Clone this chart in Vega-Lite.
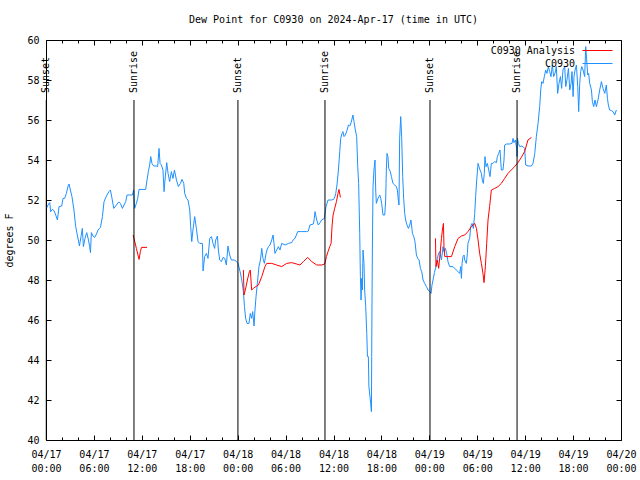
{
  "$schema": "https://vega.github.io/schema/vega-lite/v6.json",
  "autosize": {"type": "none"},
  "padding": {"left": 46, "top": 40, "right": 19, "bottom": 40},
  "width": 575,
  "height": 400,
  "background": "white",
  "title": {"text": "Dew Point for C0930 on 2024-Apr-17 (time in UTC)", "font": "DejaVu Sans Mono", "fontSize": 10, "fontWeight": "normal", "color": "black", "anchor": "middle", "offset": 10},
  "config": {
    "view": {"stroke": "black", "strokeWidth": 1},
    "axis": {"grid": false, "domain": false, "tickColor": "black", "labelColor": "black", "labelFont": "DejaVu Sans Mono", "labelFontSize": 10, "titleFont": "DejaVu Sans Mono", "titleFontSize": 10, "titleFontWeight": "normal", "titleColor": "black"}
  },
  "datasets": {
    "obs": [
      {"t":"2024-04-17T00:03:00Z","v":51.58},{"t":"2024-04-17T00:15:00Z","v":51.75},{"t":"2024-04-17T00:28:00Z","v":51.87},{"t":"2024-04-17T00:35:00Z","v":51.42},{"t":"2024-04-17T00:48:00Z","v":51.53},{"t":"2024-04-17T01:00:00Z","v":51.47},{"t":"2024-04-17T01:13:00Z","v":51.25},{"t":"2024-04-17T01:26:00Z","v":51.0},{"t":"2024-04-17T01:38:00Z","v":51.67},{"t":"2024-04-17T01:58:00Z","v":51.7},{"t":"2024-04-17T02:08:00Z","v":52.08},{"t":"2024-04-17T02:20:00Z","v":52.08},{"t":"2024-04-17T02:33:00Z","v":52.33},{"t":"2024-04-17T02:45:00Z","v":52.67},{"t":"2024-04-17T02:53:00Z","v":52.8},{"t":"2024-04-17T03:03:00Z","v":52.5},{"t":"2024-04-17T03:15:00Z","v":52.17},{"t":"2024-04-17T03:30:00Z","v":51.5},{"t":"2024-04-17T03:43:00Z","v":50.67},{"t":"2024-04-17T03:53:00Z","v":50.33},{"t":"2024-04-17T04:03:00Z","v":50.0},{"t":"2024-04-17T04:11:00Z","v":49.7},{"t":"2024-04-17T04:23:00Z","v":50.17},{"t":"2024-04-17T04:33:00Z","v":50.58},{"t":"2024-04-17T04:41:00Z","v":49.67},{"t":"2024-04-17T04:53:00Z","v":50.08},{"t":"2024-04-17T05:06:00Z","v":50.37},{"t":"2024-04-17T05:19:00Z","v":50.0},{"t":"2024-04-17T05:28:00Z","v":49.67},{"t":"2024-04-17T05:34:00Z","v":49.37},{"t":"2024-04-17T05:41:00Z","v":50.37},{"t":"2024-04-17T05:53:00Z","v":50.2},{"t":"2024-04-17T06:06:00Z","v":50.13},{"t":"2024-04-17T06:19:00Z","v":50.3},{"t":"2024-04-17T06:31:00Z","v":50.5},{"t":"2024-04-17T06:49:00Z","v":50.63},{"t":"2024-04-17T07:04:00Z","v":51.17},{"t":"2024-04-17T07:16:00Z","v":51.92},{"t":"2024-04-17T07:34:00Z","v":52.2},{"t":"2024-04-17T07:53:00Z","v":52.42},{"t":"2024-04-17T08:04:00Z","v":52.5},{"t":"2024-04-17T08:16:00Z","v":52.08},{"t":"2024-04-17T08:29:00Z","v":51.58},{"t":"2024-04-17T08:49:00Z","v":51.75},{"t":"2024-04-17T09:06:00Z","v":51.9},{"t":"2024-04-17T09:19:00Z","v":51.83},{"t":"2024-04-17T09:34:00Z","v":51.58},{"t":"2024-04-17T09:46:00Z","v":51.75},{"t":"2024-04-17T09:59:00Z","v":51.92},{"t":"2024-04-17T10:09:00Z","v":52.25},{"t":"2024-04-17T10:29:00Z","v":52.25},{"t":"2024-04-17T10:49:00Z","v":52.25},{"t":"2024-04-17T10:59:00Z","v":52.5},{"t":"2024-04-17T11:06:00Z","v":51.58},{"t":"2024-04-17T11:19:00Z","v":51.83},{"t":"2024-04-17T11:29:00Z","v":52.08},{"t":"2024-04-17T11:39:00Z","v":52.53},{"t":"2024-04-17T12:29:00Z","v":52.53},{"t":"2024-04-17T12:39:00Z","v":53.0},{"t":"2024-04-17T12:49:00Z","v":53.42},{"t":"2024-04-17T12:59:00Z","v":53.75},{"t":"2024-04-17T13:07:00Z","v":54.17},{"t":"2024-04-17T13:16:00Z","v":53.83},{"t":"2024-04-17T13:29:00Z","v":53.7},{"t":"2024-04-17T13:49:00Z","v":53.7},{"t":"2024-04-17T13:59:00Z","v":53.67},{"t":"2024-04-17T14:09:00Z","v":54.58},{"t":"2024-04-17T14:17:00Z","v":53.83},{"t":"2024-04-17T14:27:00Z","v":53.75},{"t":"2024-04-17T14:39:00Z","v":53.5},{"t":"2024-04-17T14:47:00Z","v":52.42},{"t":"2024-04-17T14:54:00Z","v":53.0},{"t":"2024-04-17T15:07:00Z","v":53.87},{"t":"2024-04-17T15:17:00Z","v":53.33},{"t":"2024-04-17T15:29:00Z","v":52.92},{"t":"2024-04-17T15:42:00Z","v":53.42},{"t":"2024-04-17T15:54:00Z","v":53.08},{"t":"2024-04-17T16:05:00Z","v":53.5},{"t":"2024-04-17T16:20:00Z","v":53.0},{"t":"2024-04-17T16:35:00Z","v":52.67},{"t":"2024-04-17T16:50:00Z","v":52.83},{"t":"2024-04-17T17:02:00Z","v":53.03},{"t":"2024-04-17T17:15:00Z","v":52.83},{"t":"2024-04-17T17:22:00Z","v":52.33},{"t":"2024-04-17T17:35:00Z","v":52.08},{"t":"2024-04-17T17:47:00Z","v":52.0},{"t":"2024-04-17T18:00:00Z","v":51.5},{"t":"2024-04-17T18:07:00Z","v":50.67},{"t":"2024-04-17T18:15:00Z","v":49.92},{"t":"2024-04-17T18:24:00Z","v":50.5},{"t":"2024-04-17T18:37:00Z","v":51.17},{"t":"2024-04-17T18:50:00Z","v":50.58},{"t":"2024-04-17T19:02:00Z","v":49.92},{"t":"2024-04-17T19:15:00Z","v":49.83},{"t":"2024-04-17T19:35:00Z","v":49.83},{"t":"2024-04-17T19:40:00Z","v":48.45},{"t":"2024-04-17T19:52:00Z","v":49.17},{"t":"2024-04-17T20:05:00Z","v":49.33},{"t":"2024-04-17T20:17:00Z","v":49.08},{"t":"2024-04-17T20:30:00Z","v":50.08},{"t":"2024-04-17T20:43:00Z","v":50.17},{"t":"2024-04-17T20:55:00Z","v":49.83},{"t":"2024-04-17T21:07:00Z","v":49.58},{"t":"2024-04-17T21:15:00Z","v":50.0},{"t":"2024-04-17T21:28:00Z","v":50.2},{"t":"2024-04-17T21:35:00Z","v":49.5},{"t":"2024-04-17T21:45:00Z","v":49.0},{"t":"2024-04-17T21:58:00Z","v":48.92},{"t":"2024-04-17T22:10:00Z","v":49.13},{"t":"2024-04-17T22:23:00Z","v":49.08},{"t":"2024-04-17T22:35:00Z","v":48.75},{"t":"2024-04-17T22:47:00Z","v":49.7},{"t":"2024-04-17T23:00:00Z","v":49.25},{"t":"2024-04-17T23:13:00Z","v":49.0},{"t":"2024-04-17T23:38:00Z","v":49.0},
      {"t":"2024-04-18T00:03:00Z","v":48.83},{"t":"2024-04-18T00:18:00Z","v":48.42},{"t":"2024-04-18T00:31:00Z","v":48.0},{"t":"2024-04-18T00:43:00Z","v":47.42},{"t":"2024-04-18T00:51:00Z","v":46.67},{"t":"2024-04-18T01:00:00Z","v":46.08},{"t":"2024-04-18T01:10:00Z","v":45.83},{"t":"2024-04-18T01:25:00Z","v":45.83},{"t":"2024-04-18T01:35:00Z","v":46.33},{"t":"2024-04-18T01:45:00Z","v":46.08},{"t":"2024-04-18T01:53:00Z","v":46.42},{"t":"2024-04-18T02:03:00Z","v":45.7},{"t":"2024-04-18T02:10:00Z","v":46.5},{"t":"2024-04-18T02:18:00Z","v":47.17},{"t":"2024-04-18T02:28:00Z","v":47.83},{"t":"2024-04-18T02:40:00Z","v":48.67},{"t":"2024-04-18T02:51:00Z","v":49.0},{"t":"2024-04-18T03:01:00Z","v":49.58},{"t":"2024-04-18T03:10:00Z","v":49.08},{"t":"2024-04-18T03:21:00Z","v":48.83},{"t":"2024-04-18T03:31:00Z","v":49.25},{"t":"2024-04-18T03:40:00Z","v":49.5},{"t":"2024-04-18T03:51:00Z","v":49.67},{"t":"2024-04-18T04:03:00Z","v":49.75},{"t":"2024-04-18T04:16:00Z","v":50.0},{"t":"2024-04-18T04:26:00Z","v":50.25},{"t":"2024-04-18T04:33:00Z","v":49.83},{"t":"2024-04-18T04:40:00Z","v":49.33},{"t":"2024-04-18T04:53:00Z","v":49.5},{"t":"2024-04-18T05:06:00Z","v":49.67},{"t":"2024-04-18T05:18:00Z","v":49.5},{"t":"2024-04-18T05:31:00Z","v":49.83},{"t":"2024-04-18T05:56:00Z","v":49.75},{"t":"2024-04-18T06:21:00Z","v":49.83},{"t":"2024-04-18T06:46:00Z","v":49.87},{"t":"2024-04-18T06:59:00Z","v":50.03},{"t":"2024-04-18T07:11:00Z","v":50.08},{"t":"2024-04-18T07:31:00Z","v":50.42},{"t":"2024-04-18T08:01:00Z","v":50.42},{"t":"2024-04-18T08:39:00Z","v":50.42},{"t":"2024-04-18T08:51:00Z","v":50.45},{"t":"2024-04-18T09:03:00Z","v":50.75},{"t":"2024-04-18T09:29:00Z","v":50.8},{"t":"2024-04-18T09:36:00Z","v":51.08},{"t":"2024-04-18T09:41:00Z","v":51.42},{"t":"2024-04-18T09:54:00Z","v":51.0},{"t":"2024-04-18T10:06:00Z","v":50.75},{"t":"2024-04-18T10:19:00Z","v":50.87},{"t":"2024-04-18T10:31:00Z","v":51.0},{"t":"2024-04-18T10:51:00Z","v":51.08},{"t":"2024-04-18T11:04:00Z","v":51.67},{"t":"2024-04-18T11:19:00Z","v":52.0},{"t":"2024-04-18T11:44:00Z","v":52.0},{"t":"2024-04-18T12:01:00Z","v":52.03},{"t":"2024-04-18T12:11:00Z","v":52.17},{"t":"2024-04-18T12:17:00Z","v":52.33},{"t":"2024-04-18T12:26:00Z","v":52.75},{"t":"2024-04-18T12:37:00Z","v":53.5},{"t":"2024-04-18T12:47:00Z","v":54.42},{"t":"2024-04-18T12:54:00Z","v":55.08},{"t":"2024-04-18T13:04:00Z","v":55.33},{"t":"2024-04-18T13:11:00Z","v":55.42},{"t":"2024-04-18T13:19:00Z","v":55.17},{"t":"2024-04-18T13:29:00Z","v":55.25},{"t":"2024-04-18T13:41:00Z","v":55.47},{"t":"2024-04-18T13:52:00Z","v":55.75},{"t":"2024-04-18T14:02:00Z","v":55.7},{"t":"2024-04-18T14:09:00Z","v":55.8},{"t":"2024-04-18T14:17:00Z","v":56.0},{"t":"2024-04-18T14:26:00Z","v":56.25},{"t":"2024-04-18T14:34:00Z","v":55.92},{"t":"2024-04-18T14:44:00Z","v":55.5},{"t":"2024-04-18T14:54:00Z","v":55.17},{"t":"2024-04-18T15:02:00Z","v":53.67},{"t":"2024-04-18T15:09:00Z","v":52.83},{"t":"2024-04-18T15:17:00Z","v":50.33},{"t":"2024-04-18T15:22:00Z","v":48.17},{"t":"2024-04-18T15:27:00Z","v":47.0},{"t":"2024-04-18T15:32:00Z","v":48.08},{"t":"2024-04-18T15:37:00Z","v":47.5},{"t":"2024-04-18T15:42:00Z","v":49.5},{"t":"2024-04-18T15:49:00Z","v":48.83},{"t":"2024-04-18T15:54:00Z","v":47.5},{"t":"2024-04-18T16:02:00Z","v":46.67},{"t":"2024-04-18T16:10:00Z","v":45.33},{"t":"2024-04-18T16:15:00Z","v":44.17},{"t":"2024-04-18T16:22:00Z","v":44.17},{"t":"2024-04-18T16:26:00Z","v":42.67},{"t":"2024-04-18T16:34:00Z","v":42.17},{"t":"2024-04-18T16:39:00Z","v":41.83},{"t":"2024-04-18T16:45:00Z","v":41.42},{"t":"2024-04-18T16:47:00Z","v":44.17},{"t":"2024-04-18T16:49:00Z","v":46.5},{"t":"2024-04-18T16:52:00Z","v":49.5},{"t":"2024-04-18T16:57:00Z","v":52.67},{"t":"2024-04-18T17:04:00Z","v":53.5},{"t":"2024-04-18T17:12:00Z","v":54.0},{"t":"2024-04-18T17:17:00Z","v":52.5},{"t":"2024-04-18T17:22:00Z","v":51.83},{"t":"2024-04-18T17:30:00Z","v":52.0},{"t":"2024-04-18T17:40:00Z","v":52.17},{"t":"2024-04-18T17:47:00Z","v":52.25},{"t":"2024-04-18T17:55:00Z","v":52.08},{"t":"2024-04-18T18:02:00Z","v":51.83},{"t":"2024-04-18T18:12:00Z","v":51.25},{"t":"2024-04-18T18:25:00Z","v":51.25},{"t":"2024-04-18T18:32:00Z","v":52.0},{"t":"2024-04-18T18:37:00Z","v":53.5},{"t":"2024-04-18T18:42:00Z","v":54.33},{"t":"2024-04-18T18:49:00Z","v":54.17},{"t":"2024-04-18T18:55:00Z","v":53.58},{"t":"2024-04-18T19:07:00Z","v":53.42},{"t":"2024-04-18T19:15:00Z","v":53.17},{"t":"2024-04-18T19:27:00Z","v":52.83},{"t":"2024-04-18T19:40:00Z","v":52.75},{"t":"2024-04-18T19:52:00Z","v":52.67},{"t":"2024-04-18T20:00:00Z","v":52.5},{"t":"2024-04-18T20:07:00Z","v":52.0},{"t":"2024-04-18T20:12:00Z","v":51.75},{"t":"2024-04-18T20:17:00Z","v":55.08},{"t":"2024-04-18T20:25:00Z","v":56.17},{"t":"2024-04-18T20:32:00Z","v":55.17},{"t":"2024-04-18T20:40:00Z","v":53.17},{"t":"2024-04-18T20:47:00Z","v":52.08},{"t":"2024-04-18T20:55:00Z","v":51.33},{"t":"2024-04-18T21:02:00Z","v":51.0},{"t":"2024-04-18T21:12:00Z","v":50.75},{"t":"2024-04-18T21:23:00Z","v":50.58},{"t":"2024-04-18T21:33:00Z","v":50.75},{"t":"2024-04-18T21:42:00Z","v":51.0},{"t":"2024-04-18T21:53:00Z","v":50.33},{"t":"2024-04-18T22:03:00Z","v":50.17},{"t":"2024-04-18T22:12:00Z","v":49.92},{"t":"2024-04-18T22:23:00Z","v":49.25},{"t":"2024-04-18T22:33:00Z","v":49.08},{"t":"2024-04-18T22:43:00Z","v":49.0},{"t":"2024-04-18T22:53:00Z","v":48.58},{"t":"2024-04-18T23:03:00Z","v":48.42},{"t":"2024-04-18T23:13:00Z","v":48.0},{"t":"2024-04-18T23:25:00Z","v":47.83},{"t":"2024-04-18T23:38:00Z","v":47.67},{"t":"2024-04-18T23:50:00Z","v":47.5},
      {"t":"2024-04-19T00:03:00Z","v":47.42},{"t":"2024-04-19T00:13:00Z","v":47.33},{"t":"2024-04-19T00:20:00Z","v":47.75},{"t":"2024-04-19T00:28:00Z","v":48.0},{"t":"2024-04-19T00:38:00Z","v":48.37},{"t":"2024-04-19T00:50:00Z","v":48.67},{"t":"2024-04-19T01:00:00Z","v":49.08},{"t":"2024-04-19T01:10:00Z","v":49.33},{"t":"2024-04-19T01:18:00Z","v":49.42},{"t":"2024-04-19T01:31:00Z","v":49.0},{"t":"2024-04-19T01:43:00Z","v":49.67},{"t":"2024-04-19T01:50:00Z","v":49.42},{"t":"2024-04-19T02:01:00Z","v":49.58},{"t":"2024-04-19T02:10:00Z","v":49.33},{"t":"2024-04-19T02:20:00Z","v":48.92},{"t":"2024-04-19T02:33:00Z","v":48.67},{"t":"2024-04-19T02:58:00Z","v":48.67},{"t":"2024-04-19T03:11:00Z","v":48.58},{"t":"2024-04-19T03:23:00Z","v":48.5},{"t":"2024-04-19T03:36:00Z","v":48.42},{"t":"2024-04-19T03:48:00Z","v":48.33},{"t":"2024-04-19T03:56:00Z","v":48.67},{"t":"2024-04-19T04:01:00Z","v":48.08},{"t":"2024-04-19T04:06:00Z","v":48.83},{"t":"2024-04-19T04:13:00Z","v":49.17},{"t":"2024-04-19T04:21:00Z","v":49.25},{"t":"2024-04-19T04:26:00Z","v":49.0},{"t":"2024-04-19T04:38:00Z","v":48.83},{"t":"2024-04-19T04:46:00Z","v":49.33},{"t":"2024-04-19T04:50:00Z","v":49.83},{"t":"2024-04-19T05:03:00Z","v":50.08},{"t":"2024-04-19T05:11:00Z","v":50.67},{"t":"2024-04-19T05:21:00Z","v":50.83},{"t":"2024-04-19T05:31:00Z","v":50.58},{"t":"2024-04-19T05:41:00Z","v":51.33},{"t":"2024-04-19T05:48:00Z","v":52.17},{"t":"2024-04-19T05:56:00Z","v":53.0},{"t":"2024-04-19T06:06:00Z","v":53.83},{"t":"2024-04-19T06:13:00Z","v":53.67},{"t":"2024-04-19T06:21:00Z","v":53.5},{"t":"2024-04-19T06:31:00Z","v":53.33},{"t":"2024-04-19T06:38:00Z","v":53.0},{"t":"2024-04-19T06:46:00Z","v":52.83},{"t":"2024-04-19T06:53:00Z","v":53.33},{"t":"2024-04-19T06:58:00Z","v":54.17},{"t":"2024-04-19T07:06:00Z","v":53.67},{"t":"2024-04-19T07:16:00Z","v":53.83},{"t":"2024-04-19T07:26:00Z","v":53.5},{"t":"2024-04-19T07:36:00Z","v":53.17},{"t":"2024-04-19T07:46:00Z","v":53.83},{"t":"2024-04-19T07:58:00Z","v":53.83},{"t":"2024-04-19T08:11:00Z","v":53.92},{"t":"2024-04-19T08:24:00Z","v":53.87},{"t":"2024-04-19T08:31:00Z","v":54.17},{"t":"2024-04-19T08:41:00Z","v":54.33},{"t":"2024-04-19T08:51:00Z","v":54.5},{"t":"2024-04-19T09:01:00Z","v":53.5},{"t":"2024-04-19T09:13:00Z","v":53.5},{"t":"2024-04-19T09:21:00Z","v":54.0},{"t":"2024-04-19T09:26:00Z","v":54.75},{"t":"2024-04-19T09:39:00Z","v":54.8},{"t":"2024-04-19T10:04:00Z","v":54.8},{"t":"2024-04-19T10:21:00Z","v":54.83},{"t":"2024-04-19T10:29:00Z","v":55.08},{"t":"2024-04-19T10:36:00Z","v":54.87},{"t":"2024-04-19T10:47:00Z","v":55.0},{"t":"2024-04-19T10:57:00Z","v":54.5},{"t":"2024-04-19T10:59:00Z","v":54.17},{"t":"2024-04-19T11:02:00Z","v":55.08},{"t":"2024-04-19T11:09:00Z","v":54.83},{"t":"2024-04-19T11:19:00Z","v":54.67},{"t":"2024-04-19T11:31:00Z","v":54.7},{"t":"2024-04-19T11:44:00Z","v":54.67},{"t":"2024-04-19T11:56:00Z","v":54.58},{"t":"2024-04-19T12:04:00Z","v":53.75},{"t":"2024-04-19T12:21:00Z","v":53.7},{"t":"2024-04-19T12:47:00Z","v":53.7},{"t":"2024-04-19T12:59:00Z","v":53.83},{"t":"2024-04-19T13:12:00Z","v":54.33},{"t":"2024-04-19T13:24:00Z","v":55.17},{"t":"2024-04-19T13:37:00Z","v":55.83},{"t":"2024-04-19T13:49:00Z","v":56.67},{"t":"2024-04-19T13:57:00Z","v":57.5},{"t":"2024-04-19T14:04:00Z","v":57.92},{"t":"2024-04-19T14:14:00Z","v":57.83},{"t":"2024-04-19T14:24:00Z","v":58.17},{"t":"2024-04-19T14:34:00Z","v":58.5},{"t":"2024-04-19T14:44:00Z","v":58.33},{"t":"2024-04-19T14:54:00Z","v":58.67},{"t":"2024-04-19T15:04:00Z","v":58.42},{"t":"2024-04-19T15:14:00Z","v":58.17},{"t":"2024-04-19T15:24:00Z","v":58.75},{"t":"2024-04-19T15:34:00Z","v":58.17},{"t":"2024-04-19T15:44:00Z","v":58.33},{"t":"2024-04-19T15:54:00Z","v":58.67},{"t":"2024-04-19T16:04:00Z","v":57.33},{"t":"2024-04-19T16:14:00Z","v":57.83},{"t":"2024-04-19T16:25:00Z","v":58.17},{"t":"2024-04-19T16:34:00Z","v":57.58},{"t":"2024-04-19T16:44:00Z","v":58.5},{"t":"2024-04-19T16:57:00Z","v":58.67},{"t":"2024-04-19T17:05:00Z","v":57.67},{"t":"2024-04-19T17:14:00Z","v":58.0},{"t":"2024-04-19T17:25:00Z","v":58.58},{"t":"2024-04-19T17:35:00Z","v":57.5},{"t":"2024-04-19T17:45:00Z","v":57.83},{"t":"2024-04-19T17:52:00Z","v":58.42},{"t":"2024-04-19T18:00:00Z","v":57.17},{"t":"2024-04-19T18:07:00Z","v":58.17},{"t":"2024-04-19T18:15:00Z","v":58.5},{"t":"2024-04-19T18:25:00Z","v":58.75},{"t":"2024-04-19T18:35:00Z","v":57.67},{"t":"2024-04-19T18:42:00Z","v":56.42},{"t":"2024-04-19T18:50:00Z","v":57.83},{"t":"2024-04-19T18:57:00Z","v":58.42},{"t":"2024-04-19T19:05:00Z","v":58.67},{"t":"2024-04-19T19:15:00Z","v":58.5},{"t":"2024-04-19T19:27:00Z","v":58.17},{"t":"2024-04-19T19:35:00Z","v":59.67},{"t":"2024-04-19T19:42:00Z","v":59.0},{"t":"2024-04-19T19:50:00Z","v":58.25},{"t":"2024-04-19T19:57:00Z","v":58.33},{"t":"2024-04-19T20:05:00Z","v":57.83},{"t":"2024-04-19T20:18:00Z","v":57.5},{"t":"2024-04-19T20:25:00Z","v":56.92},{"t":"2024-04-19T20:35:00Z","v":56.67},{"t":"2024-04-19T20:45:00Z","v":57.0},{"t":"2024-04-19T20:55:00Z","v":56.67},{"t":"2024-04-19T21:07:00Z","v":57.0},{"t":"2024-04-19T21:20:00Z","v":57.5},{"t":"2024-04-19T21:33:00Z","v":57.92},{"t":"2024-04-19T21:45:00Z","v":57.58},{"t":"2024-04-19T21:58:00Z","v":57.33},{"t":"2024-04-19T22:10:00Z","v":57.75},{"t":"2024-04-19T22:18:00Z","v":57.08},{"t":"2024-04-19T22:25:00Z","v":56.75},{"t":"2024-04-19T22:35:00Z","v":56.5},{"t":"2024-04-19T22:48:00Z","v":56.47},{"t":"2024-04-19T23:00:00Z","v":56.42},{"t":"2024-04-19T23:13:00Z","v":56.25},{"t":"2024-04-19T23:25:00Z","v":56.5}
    ],
    "ana": [
      {"t":"2024-04-17T10:54:00Z","v":50.25,"g":1},{"t":"2024-04-17T11:04:00Z","v":50.0,"g":1},{"t":"2024-04-17T11:19:00Z","v":49.58,"g":1},{"t":"2024-04-17T11:31:00Z","v":49.25,"g":1},{"t":"2024-04-17T11:39:00Z","v":49.03,"g":1},{"t":"2024-04-17T11:49:00Z","v":49.42,"g":1},{"t":"2024-04-17T11:57:00Z","v":49.63,"g":1},{"t":"2024-04-17T12:39:00Z","v":49.63,"g":1},
      {"t":"2024-04-18T00:43:00Z","v":48.5,"g":2},{"t":"2024-04-18T00:48:00Z","v":47.25,"g":2},{"t":"2024-04-18T01:03:00Z","v":47.67,"g":2},{"t":"2024-04-18T01:13:00Z","v":48.0,"g":2},{"t":"2024-04-18T01:28:00Z","v":48.42,"g":2},{"t":"2024-04-18T01:35:00Z","v":48.5,"g":2},{"t":"2024-04-18T01:45:00Z","v":47.5,"g":2},{"t":"2024-04-18T01:58:00Z","v":47.58,"g":2},{"t":"2024-04-18T02:23:00Z","v":47.7,"g":2},{"t":"2024-04-18T02:36:00Z","v":47.75,"g":2},{"t":"2024-04-18T03:01:00Z","v":48.17,"g":2},{"t":"2024-04-18T03:25:00Z","v":48.67,"g":2},{"t":"2024-04-18T03:38:00Z","v":48.83,"g":2},{"t":"2024-04-18T04:16:00Z","v":48.83,"g":2},{"t":"2024-04-18T04:53:00Z","v":48.75,"g":2},{"t":"2024-04-18T05:31:00Z","v":48.67,"g":2},{"t":"2024-04-18T06:08:00Z","v":48.83,"g":2},{"t":"2024-04-18T06:46:00Z","v":48.87,"g":2},{"t":"2024-04-18T07:23:00Z","v":48.8,"g":2},{"t":"2024-04-18T07:48:00Z","v":48.75,"g":2},{"t":"2024-04-18T08:14:00Z","v":48.92,"g":2},{"t":"2024-04-18T08:46:00Z","v":49.13,"g":2},{"t":"2024-04-18T09:16:00Z","v":48.92,"g":2},{"t":"2024-04-18T09:54:00Z","v":48.75,"g":2},{"t":"2024-04-18T10:31:00Z","v":48.75,"g":2},{"t":"2024-04-18T10:54:00Z","v":48.8,"g":2},{"t":"2024-04-18T11:07:00Z","v":49.17,"g":2},{"t":"2024-04-18T11:19:00Z","v":49.42,"g":2},{"t":"2024-04-18T11:32:00Z","v":49.67,"g":2},{"t":"2024-04-18T11:42:00Z","v":49.83,"g":2},{"t":"2024-04-18T11:49:00Z","v":50.7,"g":2},{"t":"2024-04-18T11:57:00Z","v":51.25,"g":2},{"t":"2024-04-18T12:09:00Z","v":51.58,"g":2},{"t":"2024-04-18T12:22:00Z","v":51.92,"g":2},{"t":"2024-04-18T12:34:00Z","v":52.33,"g":2},{"t":"2024-04-18T12:41:00Z","v":52.53,"g":2},{"t":"2024-04-18T12:52:00Z","v":52.13,"g":2},
      {"t":"2024-04-19T00:46:00Z","v":50.08,"g":3},{"t":"2024-04-19T00:50:00Z","v":48.67,"g":3},{"t":"2024-04-19T01:00:00Z","v":49.0,"g":3},{"t":"2024-04-19T01:10:00Z","v":48.58,"g":3},{"t":"2024-04-19T01:20:00Z","v":49.25,"g":3},{"t":"2024-04-19T01:31:00Z","v":50.08,"g":3},{"t":"2024-04-19T01:38:00Z","v":50.5,"g":3},{"t":"2024-04-19T01:46:00Z","v":50.83,"g":3},{"t":"2024-04-19T01:50:00Z","v":49.67,"g":3},{"t":"2024-04-19T01:56:00Z","v":49.17,"g":3},{"t":"2024-04-19T02:46:00Z","v":49.17,"g":3},{"t":"2024-04-19T03:11:00Z","v":49.67,"g":3},{"t":"2024-04-19T03:36:00Z","v":50.08,"g":3},{"t":"2024-04-19T04:01:00Z","v":50.2,"g":3},{"t":"2024-04-19T04:26:00Z","v":50.25,"g":3},{"t":"2024-04-19T04:50:00Z","v":50.42,"g":3},{"t":"2024-04-19T05:16:00Z","v":50.67,"g":3},{"t":"2024-04-19T05:41:00Z","v":50.83,"g":3},{"t":"2024-04-19T05:54:00Z","v":50.58,"g":3},{"t":"2024-04-19T06:06:00Z","v":50.0,"g":3},{"t":"2024-04-19T06:18:00Z","v":49.33,"g":3},{"t":"2024-04-19T06:31:00Z","v":48.83,"g":3},{"t":"2024-04-19T06:43:00Z","v":48.33,"g":3},{"t":"2024-04-19T06:51:00Z","v":47.87,"g":3},{"t":"2024-04-19T07:01:00Z","v":48.67,"g":3},{"t":"2024-04-19T07:11:00Z","v":49.83,"g":3},{"t":"2024-04-19T07:21:00Z","v":51.0,"g":3},{"t":"2024-04-19T07:33:00Z","v":51.67,"g":3},{"t":"2024-04-19T07:46:00Z","v":52.5,"g":3},{"t":"2024-04-19T08:11:00Z","v":52.58,"g":3},{"t":"2024-04-19T08:36:00Z","v":52.67,"g":3},{"t":"2024-04-19T09:01:00Z","v":52.83,"g":3},{"t":"2024-04-19T09:26:00Z","v":53.08,"g":3},{"t":"2024-04-19T09:51:00Z","v":53.33,"g":3},{"t":"2024-04-19T10:16:00Z","v":53.5,"g":3},{"t":"2024-04-19T10:41:00Z","v":53.67,"g":3},{"t":"2024-04-19T11:06:00Z","v":53.87,"g":3},{"t":"2024-04-19T11:31:00Z","v":54.13,"g":3},{"t":"2024-04-19T11:56:00Z","v":54.42,"g":3},{"t":"2024-04-19T12:21:00Z","v":55.0,"g":3},{"t":"2024-04-19T12:47:00Z","v":55.13,"g":3}
    ],
    "sun": [
      {"t":"2024-04-17T00:02:00Z","label":"Sunset"},
      {"t":"2024-04-17T11:01:00Z","label":"Sunrise"},
      {"t":"2024-04-18T00:02:00Z","label":"Sunset"},
      {"t":"2024-04-18T10:56:00Z","label":"Sunrise"},
      {"t":"2024-04-19T00:05:00Z","label":"Sunset"},
      {"t":"2024-04-19T10:59:00Z","label":"Sunrise"}
    ]
  },
  "layer": [
    {
      "data": {"name": "obs"},
      "mark": {"type": "line", "strokeWidth": 1},
      "encoding": {
        "x": {"field": "t", "type": "temporal",
              "scale": {"domain": [1713312000000, 1713571200000], "nice": false},
              "axis": {"orient": "bottom", "title": null, "values": [1713312000000, 1713333600000, 1713355200000, 1713376800000, 1713398400000, 1713420000000, 1713441600000, 1713463200000, 1713484800000, 1713506400000, 1713528000000, 1713549600000, 1713571200000], "labelExpr": "[utcFormat(datum.value, '%m/%d'), utcFormat(datum.value, '%H:%M')]", "offset": -5, "tickSize": 5, "labelPadding": 9, "labelLineHeight": 14, "labelFlush": false, "labelOverlap": false}},
        "y": {"field": "v", "type": "quantitative",
              "scale": {"domain": [40, 60], "nice": false, "zero": false},
              "axis": {"orient": "left", "title": "degrees F", "values": [40, 42, 44, 46, 48, 50, 52, 54, 56, 58, 60], "offset": -5, "tickSize": 5, "labelPadding": 7, "titlePadding": 12}},
        "color": {"datum": "C0930", "type": "nominal", "scale": {"domain": ["C0930 Analysis", "C0930"], "range": ["#ff0000", "#1e90ff"]},
                  "legend": {"title": null, "orient": "none", "legendX": 546, "legendY": 5, "symbolType": "M-3,0L3,0", "symbolSize": 100, "symbolStrokeWidth": 1, "labelAlign": "right", "labelOffset": -28, "labelFont": "DejaVu Sans Mono", "labelFontSize": 10, "labelColor": "black", "rowPadding": 2, "padding": 0}}
      }
    },
    {
      "data": {"name": "ana"},
      "mark": {"type": "line", "strokeWidth": 1},
      "encoding": {
        "x": {"field": "t", "type": "temporal", "axis": {"orient": "top", "title": null, "values": [1713312000000, 1713333600000, 1713355200000, 1713376800000, 1713398400000, 1713420000000, 1713441600000, 1713463200000, 1713484800000, 1713506400000, 1713528000000, 1713549600000, 1713571200000], "labels": false, "offset": -5, "tickSize": 5}},
        "y": {"field": "v", "type": "quantitative", "axis": {"orient": "right", "title": null, "values": [40, 42, 44, 46, 48, 50, 52, 54, 56, 58, 60], "labels": false, "offset": -5, "tickSize": 5}},
        "detail": {"field": "g", "type": "nominal"},
        "color": {"datum": "C0930 Analysis", "type": "nominal"}
      }
    },
    {
      "data": {"name": "sun"},
      "mark": {"type": "rule", "color": "black", "strokeWidth": 1},
      "encoding": {
        "x": {"field": "t", "type": "temporal", "axis": {"orient": "bottom", "title": null, "values": [1713319200000, 1713326400000, 1713340800000, 1713348000000, 1713362400000, 1713369600000, 1713384000000, 1713391200000, 1713405600000, 1713412800000, 1713427200000, 1713434400000, 1713448800000, 1713456000000, 1713470400000, 1713477600000, 1713492000000, 1713499200000, 1713513600000, 1713520800000, 1713535200000, 1713542400000, 1713556800000, 1713564000000], "labels": false, "offset": -3, "tickSize": 3}},
        "y": {"datum": 57, "type": "quantitative", "axis": null},
        "y2": {"datum": 40}
      }
    },
    {
      "data": {"name": "sun"},
      "mark": {"type": "text", "angle": 270, "align": "left", "baseline": "middle", "dx": 7, "dy": 0, "font": "DejaVu Sans Mono", "fontSize": 10, "color": "black"},
      "encoding": {
        "x": {"field": "t", "type": "temporal", "axis": {"orient": "top", "title": null, "values": [1713319200000, 1713326400000, 1713340800000, 1713348000000, 1713362400000, 1713369600000, 1713384000000, 1713391200000, 1713405600000, 1713412800000, 1713427200000, 1713434400000, 1713448800000, 1713456000000, 1713470400000, 1713477600000, 1713492000000, 1713499200000, 1713513600000, 1713520800000, 1713535200000, 1713542400000, 1713556800000, 1713564000000], "labels": false, "offset": -3, "tickSize": 3}},
        "y": {"datum": 57, "type": "quantitative", "axis": null},
        "text": {"field": "label"}
      }
    }
  ],
  "resolve": {"axis": {"x": "independent", "y": "independent"}}
}
